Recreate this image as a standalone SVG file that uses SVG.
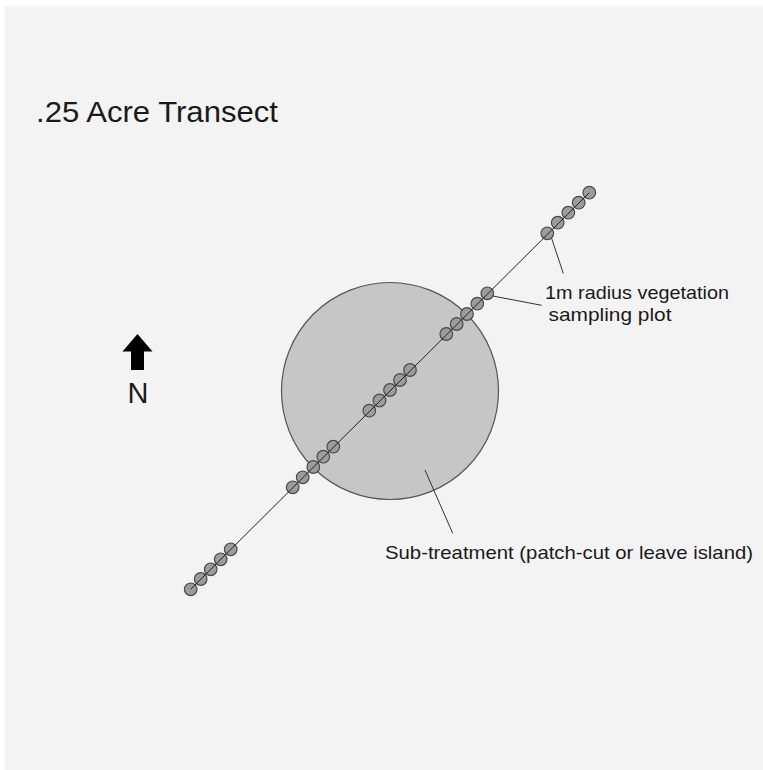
<svg xmlns="http://www.w3.org/2000/svg" width="763" height="770" viewBox="0 0 763 770">
<style>
.t{font-family:"Liberation Sans",Arial,sans-serif;fill:#1a1a1a}
.dot{fill:#9c9c9c;stroke:#4a4a4a;stroke-width:1.2}
.lead{stroke:#333;stroke-width:1;fill:none}
</style>
<rect x="0" y="0" width="763" height="770" fill="#ffffff"/>
<rect x="5" y="6" width="758" height="764" fill="#f3f3f3"/>
<g id="title"><text class="t" x="36" y="122" font-size="30" textLength="242" lengthAdjust="spacingAndGlyphs">.25 Acre Transect</text></g>
<g id="north">
<polygon points="137.5,334 152.5,351.5 144,351.5 144,370 131,370 131,351.5 122.5,351.5" fill="#000"/>
<text class="t" x="138" y="403" font-size="29" text-anchor="middle">N</text>
</g>
<g id="subtreatment"><circle cx="390" cy="391" r="108.5" fill="#c6c6c6" stroke="#555" stroke-width="1.2"/></g>
<g id="dots">
<circle class="dot" cx="589.3" cy="192.7" r="6.3"/>
<circle class="dot" cx="578.7" cy="202.7" r="6.3"/>
<circle class="dot" cx="568.3" cy="212.7" r="6.3"/>
<circle class="dot" cx="557.7" cy="222.7" r="6.3"/>
<circle class="dot" cx="547.3" cy="233.3" r="6.3"/>
<circle class="dot" cx="487.3" cy="293.3" r="6.3"/>
<circle class="dot" cx="477.3" cy="303.7" r="6.3"/>
<circle class="dot" cx="467" cy="314" r="6.3"/>
<circle class="dot" cx="456.7" cy="324" r="6.3"/>
<circle class="dot" cx="446.3" cy="334" r="6.3"/>
<circle class="dot" cx="410" cy="370" r="6.3"/>
<circle class="dot" cx="400" cy="380" r="6.3"/>
<circle class="dot" cx="390" cy="390" r="6.3"/>
<circle class="dot" cx="379.5" cy="400.5" r="6.3"/>
<circle class="dot" cx="369.3" cy="410.7" r="6.3"/>
<circle class="dot" cx="333.3" cy="446.7" r="6.3"/>
<circle class="dot" cx="323.3" cy="456.7" r="6.3"/>
<circle class="dot" cx="313.3" cy="467" r="6.3"/>
<circle class="dot" cx="302.7" cy="477.3" r="6.3"/>
<circle class="dot" cx="292.7" cy="487.3" r="6.3"/>
<circle class="dot" cx="230.7" cy="549.3" r="6.3"/>
<circle class="dot" cx="220.7" cy="559.3" r="6.3"/>
<circle class="dot" cx="210.7" cy="569.3" r="6.3"/>
<circle class="dot" cx="200.7" cy="579" r="6.3"/>
<circle class="dot" cx="190.7" cy="589.3" r="6.3"/>
</g>
<g id="connectors">
<line x1="190.7" y1="589.3" x2="589.3" y2="192.7" stroke="#222" stroke-width="1"/>
<line class="lead" x1="551.7" y1="238.5" x2="563.3" y2="273.5"/>
<line class="lead" x1="492.7" y1="296" x2="541.7" y2="305.3"/>
<line class="lead" x1="425" y1="470" x2="452.7" y2="533.3"/>
</g>
<g id="plot-label">
<text class="t" x="545" y="298.5" font-size="19" textLength="184" lengthAdjust="spacingAndGlyphs">1m radius vegetation</text>
<text class="t" x="548.5" y="320.5" font-size="19" textLength="123" lengthAdjust="spacingAndGlyphs">sampling plot</text>
</g>
<g id="subtreatment-label">
<text class="t" x="385" y="558.5" font-size="19" textLength="368" lengthAdjust="spacingAndGlyphs">Sub-treatment (patch-cut or leave island)</text>
</g>
</svg>
